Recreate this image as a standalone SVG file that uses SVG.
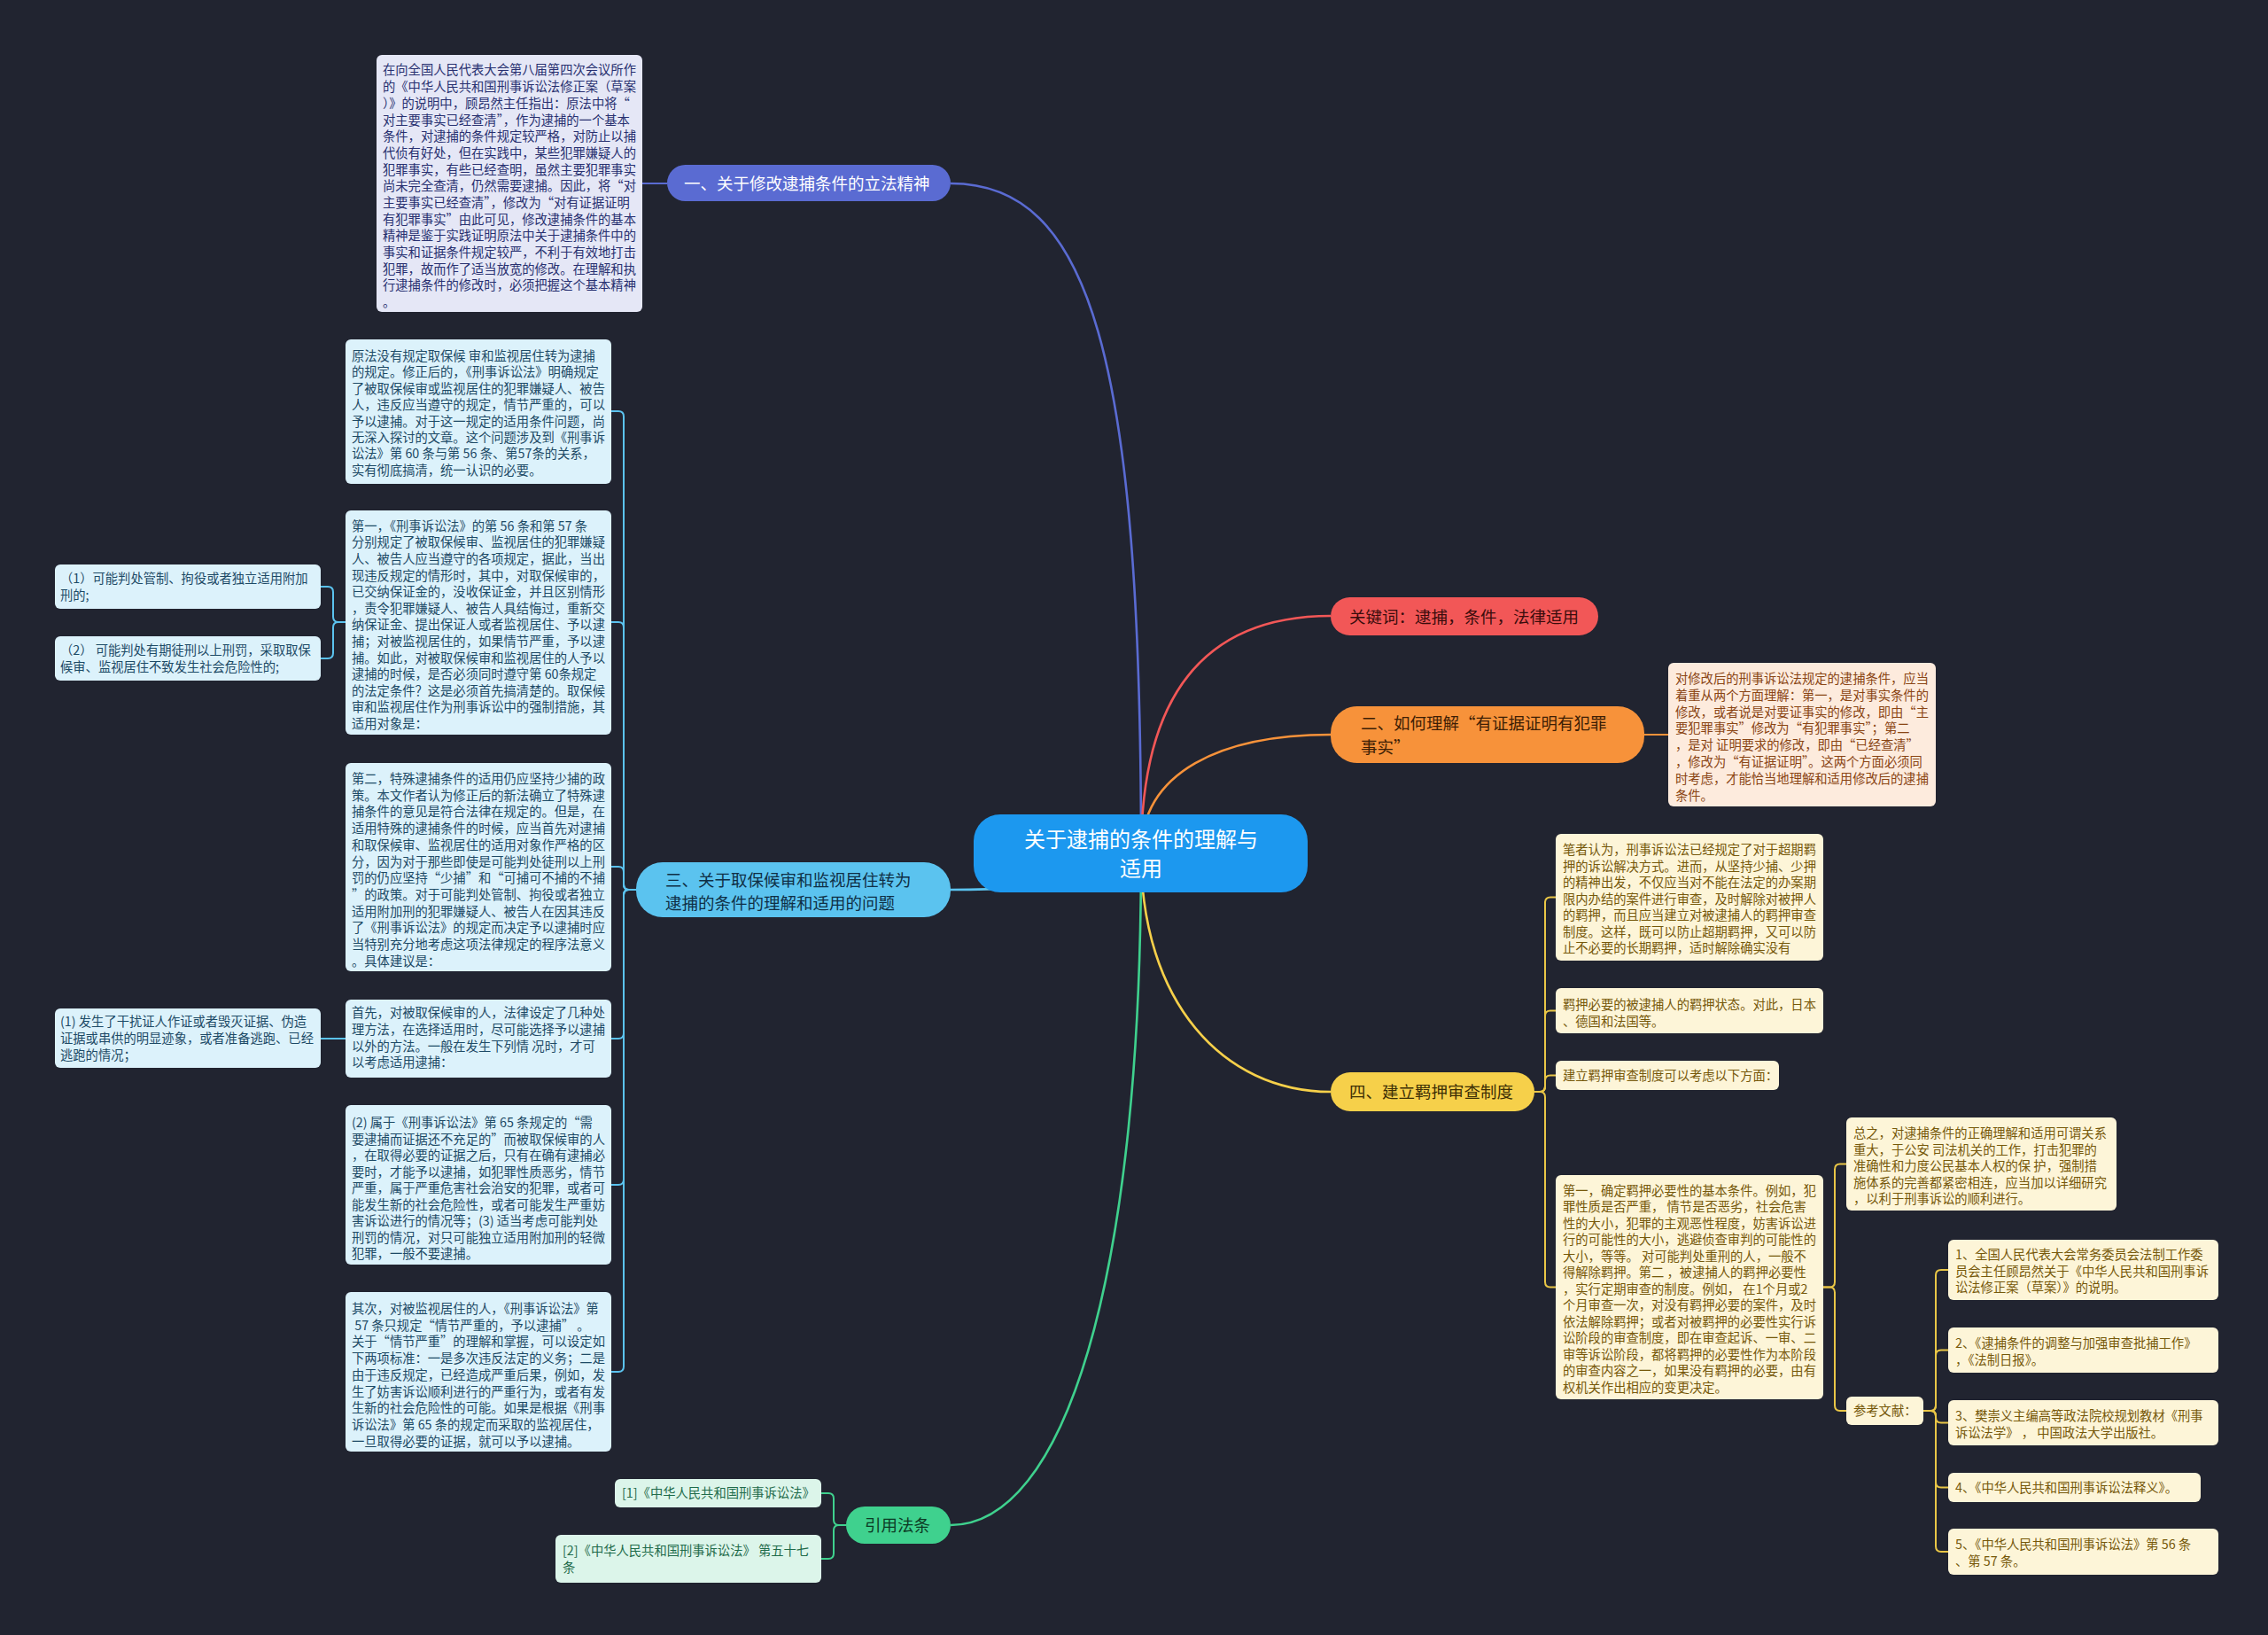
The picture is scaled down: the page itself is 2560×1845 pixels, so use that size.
<svg xmlns="http://www.w3.org/2000/svg" width="2560" height="1845" viewBox="0 0 2560 1845">
<style>
text{font-family:"Noto Sans CJK SC","Noto Sans",sans-serif;}
.s{font-size:14.3px;}
.m{font-size:18.5px;}
.c{font-size:24px;fill:#ffffff;}
.lp{fill:#283070;}
.lb{fill:#1d4a66;}
.lo{fill:#8a4514;}
.ly{fill:#76580a;}
.lg{fill:#1f6b4a;}
.bp{fill:#e5e7f6;}
.bb{fill:#dcf2fb;}
.bo{fill:#fdebdd;}
.by{fill:#fdf5d8;}
.bg{fill:#dcf5ea;}
.cn path{fill:none;stroke-width:2;}
.main{stroke-width:2.6 !important;}
</style>
<rect x="0" y="0" width="2560" height="1845" fill="#212430"/>

<g id="connectors" class="cn">
<path class="main" d="M1288,963 C1288,400 1230,207 1073,207" stroke="#5a6bd2"/>
<path class="main" d="M1288,963 C1288,760 1380,695 1502,695" stroke="#f25757"/>
<path class="main" d="M1288,963 C1288,870 1380,829 1502,829" stroke="#f7923a"/>
<path class="main" d="M1288,963 C1288,990 1180,1004 1073,1004" stroke="#5bc3ef"/>
<path class="main" d="M1288,963 C1288,1130 1380,1232 1502,1232" stroke="#f6d04a"/>
<path class="main" d="M1288,963 C1288,1450 1200,1721 1073,1721" stroke="#3fd18e"/>
<path d="M753,207 H725" stroke="#5a6bd2"/>
<path d="M1856,829 H1883" stroke="#f7923a"/>
<g stroke="#5bc3ef">
<path d="M718,1004 H710 Q704,1004 704,998 V470 Q704,464 698,464 H690"/>
<path d="M718,1004 H710 Q704,1004 704,998 V708 Q704,702 698,702 H690"/>
<path d="M718,1004 H710 Q704,1004 704,998 V984 Q704,978 698,978 H690"/>
<path d="M718,1004 H710 Q704,1004 704,1010 V1166 Q704,1172 698,1172 H690"/>
<path d="M718,1004 H710 Q704,1004 704,1010 V1331 Q704,1337 698,1337 H690"/>
<path d="M718,1004 H710 Q704,1004 704,1010 V1542 Q704,1548 698,1548 H690"/>
<path d="M390,702 H382 Q376,702 376,696 V668 Q376,662 370,662 H362"/>
<path d="M390,702 H382 Q376,702 376,708 V737 Q376,743 370,743 H362"/>
<path d="M390,1172 H362"/>
</g>
<g stroke="#3fd18e">
<path d="M955,1721 H947 Q941,1721 941,1715 V1691 Q941,1685 935,1685 H927"/>
<path d="M955,1721 H947 Q941,1721 941,1727 V1753 Q941,1759 935,1759 H927"/>
</g>
<g stroke="#e9c646">
<path d="M1732,1232 H1738 Q1744,1232 1744,1226 V1018.5 Q1744,1012.5 1750,1012.5 H1756"/>
<path d="M1732,1232 H1738 Q1744,1232 1744,1226 V1146.5 Q1744,1140.5 1750,1140.5 H1756"/>
<path d="M1732,1232 H1738 Q1744,1232 1744,1226 V1219.5 Q1744,1213.5 1750,1213.5 H1756"/>
<path d="M1732,1232 H1738 Q1744,1232 1744,1238 V1446.5 Q1744,1452.5 1750,1452.5 H1756"/>
<path d="M2058,1452.5 H2065 Q2071,1452.5 2071,1446.5 V1319.5 Q2071,1313.5 2077,1313.5 H2084"/>
<path d="M2058,1452.5 H2065 Q2071,1452.5 2071,1458.5 V1586 Q2071,1592 2077,1592 H2084"/>
<path d="M2171,1592 H2179 Q2185,1592 2185,1586 V1439 Q2185,1433 2191,1433 H2199"/>
<path d="M2171,1592 H2179 Q2185,1592 2185,1586 V1529.5 Q2185,1523.5 2191,1523.5 H2199"/>
<path d="M2171,1592 H2179 Q2185,1592 2185,1598 V1599.5 Q2185,1605.5 2191,1605.5 H2199"/>
<path d="M2171,1592 H2179 Q2185,1592 2185,1598 V1672.5 Q2185,1678.5 2191,1678.5 H2199"/>
<path d="M2171,1592 H2179 Q2185,1592 2185,1598 V1745 Q2185,1751 2191,1751 H2199"/>
</g>
</g>

<g id="center">
<rect x="1099" y="919" width="377" height="88" rx="30" fill="#1c98ef"/>
<text class="c" text-anchor="middle"><tspan x="1288" y="956">关于逮捕的条件的理解与</tspan><tspan x="1288" y="989">适用</tspan></text>
</g>

<g id="n1">
<rect x="753" y="186" width="320" height="41" rx="20.5" fill="#5a6bd2"/>
<text class="m" fill="#ffffff" x="772" y="213.5">一、关于修改逮捕条件的立法精神</text>
</g>
<g id="n1a">
<rect class="bp" x="425" y="62" width="300" height="290" rx="6"/>
<text class="s lp"><tspan x="432" y="84.4">在向全国人民代表大会第八届第四次会议所作</tspan><tspan x="432" dy="18.7">的《中华人民共和国刑事诉讼法修正案（草案</tspan><tspan x="432" dy="18.7">）》的说明中，顾昂然主任指出：原法中将“</tspan><tspan x="432" dy="18.7">对主要事实已经查清”，作为逮捕的一个基本</tspan><tspan x="432" dy="18.7">条件，对逮捕的条件规定较严格，对防止以捕</tspan><tspan x="432" dy="18.7">代侦有好处，但在实践中，某些犯罪嫌疑人的</tspan><tspan x="432" dy="18.7">犯罪事实，有些已经查明，虽然主要犯罪事实</tspan><tspan x="432" dy="18.7">尚未完全查清，仍然需要逮捕。因此，将“对</tspan><tspan x="432" dy="18.7">主要事实已经查清”，修改为“对有证据证明</tspan><tspan x="432" dy="18.7">有犯罪事实”由此可见，修改逮捕条件的基本</tspan><tspan x="432" dy="18.7">精神是鉴于实践证明原法中关于逮捕条件中的</tspan><tspan x="432" dy="18.7">事实和证据条件规定较严，不利于有效地打击</tspan><tspan x="432" dy="18.7">犯罪，故而作了适当放宽的修改。在理解和执</tspan><tspan x="432" dy="18.7">行逮捕条件的修改时，必须把握这个基本精神</tspan><tspan x="432" dy="18.7">。</tspan></text>
</g>

<g id="n-kw">
<rect x="1502" y="674" width="302" height="43" rx="21.5" fill="#f25757"/>
<text class="m" fill="#3a0c0c" x="1523" y="702.5">关键词：逮捕，条件，法律适用</text>
</g>

<g id="n2">
<rect x="1502" y="797" width="354" height="64" rx="30" fill="#f7923a"/>
<text class="m" fill="#3d1e05"><tspan x="1536" y="823">二、如何理解“有证据证明有犯罪</tspan><tspan x="1536" y="850">事实”</tspan></text>
</g>
<g id="n2a">
<rect class="bo" x="1883" y="748" width="302" height="162" rx="6"/>
<text class="s lo"><tspan x="1891" y="771">对修改后的刑事诉讼法规定的逮捕条件，应当</tspan><tspan x="1891" dy="18.8">着重从两个方面理解：第一，是对事实条件的</tspan><tspan x="1891" dy="18.8">修改，或者说是对要证事实的修改，即由“主</tspan><tspan x="1891" dy="18.8">要犯罪事实”修改为“有犯罪事实”；第二</tspan><tspan x="1891" dy="18.8">，是对 证明要求的修改，即由“已经查清”</tspan><tspan x="1891" dy="18.8">，修改为“有证据证明”。这两个方面必须同</tspan><tspan x="1891" dy="18.8">时考虑，才能恰当地理解和适用修改后的逮捕</tspan><tspan x="1891" dy="18.8">条件。</tspan></text>
</g>

<g id="n3">
<rect x="718" y="973" width="355" height="62" rx="30" fill="#5bc3ef"/>
<text class="m" fill="#0f2f45"><tspan x="751" y="1000">三、关于取保候审和监视居住转为</tspan><tspan x="751" y="1026">逮捕的条件的理解和适用的问题</tspan></text>
</g>
<g id="n3a">
<rect class="bb" x="390" y="383" width="300" height="163" rx="6"/>
<text class="s lb"><tspan x="397" y="407">原法没有规定取保候 审和监视居住转为逮捕</tspan><tspan x="397" dy="18.4">的规定。修正后的，《刑事诉讼法》明确规定</tspan><tspan x="397" dy="18.4">了被取保候审或监视居住的犯罪嫌疑人、被告</tspan><tspan x="397" dy="18.4">人，违反应当遵守的规定，情节严重的，可以</tspan><tspan x="397" dy="18.4">予以逮捕。对于这一规定的适用条件问题，尚</tspan><tspan x="397" dy="18.4">无深入探讨的文章。这个问题涉及到《刑事诉</tspan><tspan x="397" dy="18.4">讼法》第 60 条与第 56 条、第57条的关系，</tspan><tspan x="397" dy="18.4">实有彻底搞清，统一认识的必要。</tspan></text>
</g>
<g id="n3b">
<rect class="bb" x="390" y="576" width="300" height="253" rx="6"/>
<text class="s lb"><tspan x="397" y="598.7">第一，《刑事诉讼法》的第 56 条和第 57 条</tspan><tspan x="397" dy="18.6">分别规定了被取保候审、监视居住的犯罪嫌疑</tspan><tspan x="397" dy="18.6">人、被告人应当遵守的各项规定，据此，当出</tspan><tspan x="397" dy="18.6">现违反规定的情形时，其中，对取保候审的，</tspan><tspan x="397" dy="18.6">已交纳保证金的，没收保证金，并且区别情形</tspan><tspan x="397" dy="18.6">，责令犯罪嫌疑人、被告人具结悔过，重新交</tspan><tspan x="397" dy="18.6">纳保证金、提出保证人或者监视居住、予以逮</tspan><tspan x="397" dy="18.6">捕；对被监视居住的，如果情节严重，予以逮</tspan><tspan x="397" dy="18.6">捕。如此，对被取保候审和监视居住的人予以</tspan><tspan x="397" dy="18.6">逮捕的时候，是否必须同时遵守第 60条规定</tspan><tspan x="397" dy="18.6">的法定条件？这是必须首先搞清楚的。取保候</tspan><tspan x="397" dy="18.6">审和监视居住作为刑事诉讼中的强制措施，其</tspan><tspan x="397" dy="18.6">适用对象是：</tspan></text>
</g>
<g id="n3b1">
<rect class="bb" x="62" y="637" width="300" height="50" rx="6"/>
<text class="s lb"><tspan x="68" y="658">（1）可能判处管制、拘役或者独立适用附加</tspan><tspan x="68" dy="18.6">刑的;</tspan></text>
</g>
<g id="n3b2">
<rect class="bb" x="62" y="718" width="300" height="50" rx="6"/>
<text class="s lb"><tspan x="68" y="739.1">（2） 可能判处有期徒刑以上刑罚，采取取保</tspan><tspan x="68" dy="18.6">候审、监视居住不致发生社会危险性的;</tspan></text>
</g>
<g id="n3c">
<rect class="bb" x="390" y="861" width="300" height="235" rx="6"/>
<text class="s lb"><tspan x="397" y="884">第二，特殊逮捕条件的适用仍应坚持少捕的政</tspan><tspan x="397" dy="18.7">策。本文作者认为修正后的新法确立了特殊逮</tspan><tspan x="397" dy="18.7">捕条件的意见是符合法律在规定的。但是，在</tspan><tspan x="397" dy="18.7">适用特殊的逮捕条件的时候，应当首先对逮捕</tspan><tspan x="397" dy="18.7">和取保候审、监视居住的适用对象作严格的区</tspan><tspan x="397" dy="18.7">分，因为对于那些即使是可能判处徒刑以上刑</tspan><tspan x="397" dy="18.7">罚的仍应坚持“少捕”和“可捕可不捕的不捕</tspan><tspan x="397" dy="18.7">”的政策。对于可能判处管制、拘役或者独立</tspan><tspan x="397" dy="18.7">适用附加刑的犯罪嫌疑人、被告人在因其违反</tspan><tspan x="397" dy="18.7">了《刑事诉讼法》的规定而决定予以逮捕时应</tspan><tspan x="397" dy="18.7">当特别充分地考虑这项法律规定的程序法意义</tspan><tspan x="397" dy="18.7">。具体建议是：</tspan></text>
</g>
<g id="n3d">
<rect class="bb" x="390" y="1128" width="300" height="88" rx="6"/>
<text class="s lb"><tspan x="397" y="1148.4">首先，对被取保候审的人，法律设定了几种处</tspan><tspan x="397" dy="18.6">理方法，在选择适用时，尽可能选择予以逮捕</tspan><tspan x="397" dy="18.6">以外的方法。一般在发生下列情 况时，才可</tspan><tspan x="397" dy="18.6">以考虑适用逮捕：</tspan></text>
</g>
<g id="n3d1">
<rect class="bb" x="62" y="1138" width="300" height="67" rx="6"/>
<text class="s lb"><tspan x="68" y="1158.4">(1) 发生了干扰证人作证或者毁灭证据、伪造</tspan><tspan x="68" dy="18.6">证据或串供的明显迹象，或者准备逃跑、已经</tspan><tspan x="68" dy="18.6">逃跑的情况；</tspan></text>
</g>
<g id="n3e">
<rect class="bb" x="390" y="1247" width="300" height="180" rx="6"/>
<text class="s lb"><tspan x="397" y="1272">(2) 属于《刑事诉讼法》第 65 条规定的“需</tspan><tspan x="397" dy="18.5">要逮捕而证据还不充足的”而被取保候审的人</tspan><tspan x="397" dy="18.5">，在取得必要的证据之后，只有在确有逮捕必</tspan><tspan x="397" dy="18.5">要时，才能予以逮捕，如犯罪性质恶劣，情节</tspan><tspan x="397" dy="18.5">严重，属于严重危害社会治安的犯罪，或者可</tspan><tspan x="397" dy="18.5">能发生新的社会危险性，或者可能发生严重妨</tspan><tspan x="397" dy="18.5">害诉讼进行的情况等；(3) 适当考虑可能判处</tspan><tspan x="397" dy="18.5">刑罚的情况，对只可能独立适用附加刑的轻微</tspan><tspan x="397" dy="18.5">犯罪，一般不要逮捕。</tspan></text>
</g>
<g id="n3f">
<rect class="bb" x="390" y="1458" width="300" height="180" rx="6"/>
<text class="s lb"><tspan x="397" y="1482">其次，对被监视居住的人，《刑事诉讼法》第</tspan><tspan x="397" dy="18.7"> 57 条只规定“情节严重的，予以逮捕”  。</tspan><tspan x="397" dy="18.7">关于“情节严重”的理解和掌握，可以设定如</tspan><tspan x="397" dy="18.7">下两项标准：一是多次违反法定的义务；二是</tspan><tspan x="397" dy="18.7">由于违反规定，已经造成严重后果，例如，发</tspan><tspan x="397" dy="18.7">生了妨害诉讼顺利进行的严重行为，或者有发</tspan><tspan x="397" dy="18.7">生新的社会危险性的可能。如果是根据《刑事</tspan><tspan x="397" dy="18.7">诉讼法》第 65 条的规定而采取的监视居住，</tspan><tspan x="397" dy="18.7">一旦取得必要的证据，就可以予以逮捕。</tspan></text>
</g>

<g id="n4">
<rect x="1502" y="1210" width="230" height="44" rx="22" fill="#f6d04a"/>
<text class="m" fill="#3d2f05" x="1523" y="1239">四、建立羁押审查制度</text>
</g>
<g id="n4a">
<rect class="by" x="1756" y="941" width="302" height="143" rx="6"/>
<text class="s ly"><tspan x="1764" y="964.4">笔者认为，刑事诉讼法已经规定了对于超期羁</tspan><tspan x="1764" dy="18.5">押的诉讼解决方式。进而，从坚持少捕、少押</tspan><tspan x="1764" dy="18.5">的精神出发，不仅应当对不能在法定的办案期</tspan><tspan x="1764" dy="18.5">限内办结的案件进行审查，及时解除对被押人</tspan><tspan x="1764" dy="18.5">的羁押，而且应当建立对被逮捕人的羁押审查</tspan><tspan x="1764" dy="18.5">制度。这样，既可以防止超期羁押，又可以防</tspan><tspan x="1764" dy="18.5">止不必要的长期羁押，适时解除确实没有</tspan></text>
</g>
<g id="n4b">
<rect class="by" x="1756" y="1115" width="302" height="51" rx="6"/>
<text class="s ly"><tspan x="1764" y="1139.4">羁押必要的被逮捕人的羁押状态。对此，日本</tspan><tspan x="1764" dy="18.5">、德国和法国等。</tspan></text>
</g>
<g id="n4c">
<rect class="by" x="1756" y="1197" width="252" height="33" rx="6"/>
<text class="s ly" x="1764" y="1219.4">建立羁押审查制度可以考虑以下方面：</text>
</g>
<g id="n4d">
<rect class="by" x="1756" y="1326" width="302" height="253" rx="6"/>
<text class="s ly"><tspan x="1764" y="1348.7">第一，确定羁押必要性的基本条件。例如，犯</tspan><tspan x="1764" dy="18.5">罪性质是否严重， 情节是否恶劣，社会危害</tspan><tspan x="1764" dy="18.5">性的大小，犯罪的主观恶性程度，妨害诉讼进</tspan><tspan x="1764" dy="18.5">行的可能性的大小，逃避侦查审判的可能性的</tspan><tspan x="1764" dy="18.5">大小，等等。 对可能判处重刑的人，一般不</tspan><tspan x="1764" dy="18.5">得解除羁押。第二 ，被逮捕人的羁押必要性</tspan><tspan x="1764" dy="18.5">，实行定期审查的制度。例如， 在1个月或2</tspan><tspan x="1764" dy="18.5">个月审查一次，对没有羁押必要的案件，及时</tspan><tspan x="1764" dy="18.5">依法解除羁押；或者对被羁押的必要性实行诉</tspan><tspan x="1764" dy="18.5">讼阶段的审查制度，即在审查起诉、一审、二</tspan><tspan x="1764" dy="18.5">审等诉讼阶段，都将羁押的必要性作为本阶段</tspan><tspan x="1764" dy="18.5">的审查内容之一，如果没有羁押的必要，由有</tspan><tspan x="1764" dy="18.5">权机关作出相应的变更决定。</tspan></text>
</g>
<g id="n4d1">
<rect class="by" x="2084" y="1261" width="305" height="105" rx="6"/>
<text class="s ly"><tspan x="2092" y="1284">总之，对逮捕条件的正确理解和适用可谓关系</tspan><tspan x="2092" dy="18.6">重大，于公安 司法机关的工作，打击犯罪的</tspan><tspan x="2092" dy="18.6">准确性和力度公民基本人权的保 护，强制措</tspan><tspan x="2092" dy="18.6">施体系的完善都紧密相连，应当加以详细研究</tspan><tspan x="2092" dy="18.6">，以利于刑事诉讼的顺利进行。</tspan></text>
</g>
<g id="n4d2">
<rect class="by" x="2084" y="1576" width="87" height="32" rx="6"/>
<text class="s ly" x="2092" y="1597.4">参考文献：</text>
</g>
<g id="ref1">
<rect class="by" x="2199" y="1399" width="305" height="68" rx="6"/>
<text class="s ly"><tspan x="2207" y="1421">1、全国人民代表大会常务委员会法制工作委</tspan><tspan x="2207" dy="18.6">员会主任顾昂然关于《中华人民共和国刑事诉</tspan><tspan x="2207" dy="18.6">讼法修正案（草案）》的说明。</tspan></text>
</g>
<g id="ref2">
<rect class="by" x="2199" y="1498" width="305" height="51" rx="6"/>
<text class="s ly"><tspan x="2207" y="1521.4">2、《逮捕条件的调整与加强审查批捕工作》</tspan><tspan x="2207" dy="18.6">，《法制日报》。</tspan></text>
</g>
<g id="ref3">
<rect class="by" x="2199" y="1580" width="305" height="51" rx="6"/>
<text class="s ly"><tspan x="2207" y="1603.4">3、樊崇义主编高等政法院校规划教材《刑事</tspan><tspan x="2207" dy="18.6">诉讼法学》 ， 中国政法大学出版社。</tspan></text>
</g>
<g id="ref4">
<rect class="by" x="2199" y="1662" width="285" height="33" rx="6"/>
<text class="s ly" x="2207" y="1684.4">4、《中华人民共和国刑事诉讼法释义》。</text>
</g>
<g id="ref5">
<rect class="by" x="2199" y="1725" width="305" height="52" rx="6"/>
<text class="s ly"><tspan x="2207" y="1748.4">5、《中华人民共和国刑事诉讼法》第 56 条</tspan><tspan x="2207" dy="18.6">、第 57 条。</tspan></text>
</g>

<g id="n5">
<rect x="955" y="1700" width="118" height="42" rx="21" fill="#3fd18e"/>
<text class="m" fill="#0c3a24" x="976" y="1728">引用法条</text>
</g>
<g id="n5a">
<rect class="bg" x="694" y="1669" width="233" height="32" rx="6"/>
<text class="s lg" x="702" y="1690.4">[1]《中华人民共和国刑事诉讼法》</text>
</g>
<g id="n5b">
<rect class="bg" x="627" y="1732" width="300" height="54" rx="6"/>
<text class="s lg"><tspan x="635" y="1755">[2]《中华人民共和国刑事诉讼法》 第五十七</tspan><tspan x="635" dy="18.6">条</tspan></text>
</g>
</svg>
